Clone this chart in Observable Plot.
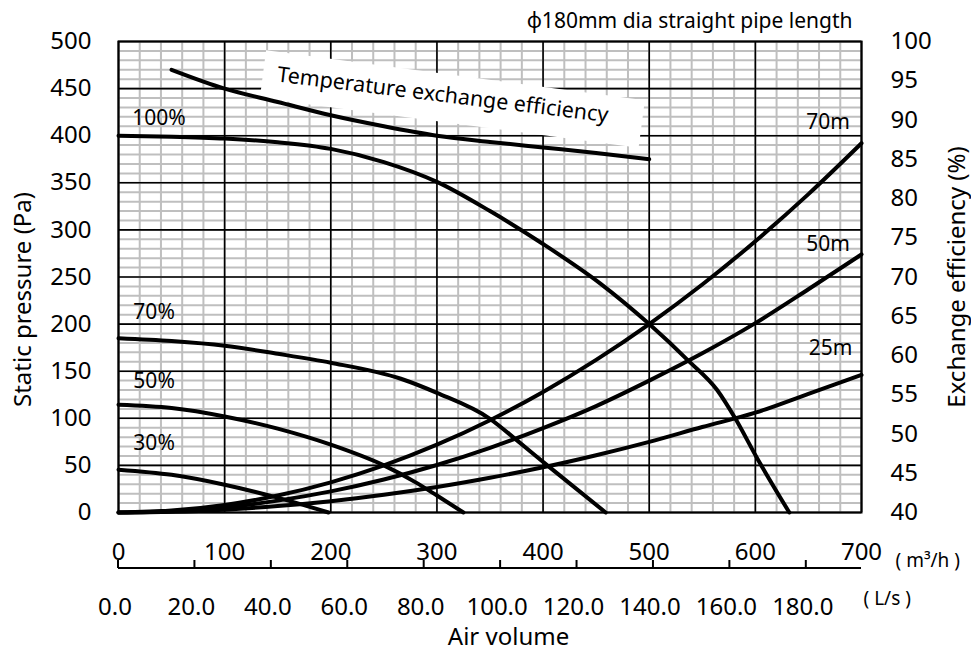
<!DOCTYPE html>
<html>
<head>
<meta charset="utf-8">
<script src="https://cdn.jsdelivr.net/npm/d3@7"></script>
<script src="https://cdn.jsdelivr.net/npm/@observablehq/plot@0.6"></script>
<style>
  html, body { margin: 0; padding: 0; background: #fff; }
  #chart svg { display: block; }
</style>
</head>
<body>
<div id="chart"></div>
<script>
// ---------- tick labels ----------
const volumeTicks = [0, 100, 200, 300, 400, 500, 600, 700];          // m3/h
const litreTicks = [0, 20, 40, 60, 80, 100, 120, 140, 160, 180];      // L/s
const pressureTicks = [0, 50, 100, 150, 200, 250, 300, 350, 400, 450, 500];
const effTicks = [40, 45, 50, 55, 60, 65, 70, 75, 80, 85, 90, 95, 100];

// ---------- fan curves (air volume m3/h -> static pressure Pa) ----------
const fanNames = ["100%", "70%", "50%", "30%"];
const fan100X = [0, 50, 100, 150, 200, 250, 300, 350, 400, 454, 500, 537, 564, 581, 601, 632];
const fan100P = [400, 399, 397, 393, 386, 372, 351, 320, 285, 243, 200, 161, 130, 100, 59, 0];
const fan70X = [0, 50, 100, 150, 200, 266, 300, 350, 376, 404, 459];
const fan70P = [185, 182, 177, 168.5, 159, 142, 127, 99.5, 76, 50, 0];
const fan50X = [0, 50, 100, 150, 200, 250, 280, 300, 325];
const fan50P = [114.5, 111, 102, 89, 72, 50, 32, 18, 0];
const fan30X = [0, 50, 100, 148, 198];
const fan30P = [45.5, 40, 29.5, 16.3, 0];

// ---------- duct resistance curves (phi180mm straight pipe) ----------
const pipeNames = ["70m", "50m", "25m"];
const pipeX = [0, 50, 100, 150, 200, 250, 300, 350, 400, 450, 500, 550, 600, 650, 700];
const pipe70P = [0, 2, 8, 18, 32, 50, 72, 98, 128, 162, 200, 242, 288, 338, 392];
const pipe50P = [0, 1.4, 5.6, 12.6, 22.4, 35, 50.4, 68.6, 89.6, 113, 140, 169, 201, 237, 274];
const pipe25P = [0, 0.8, 3, 6.8, 12, 18.8, 27, 36.8, 48, 60.8, 75, 90.8, 106, 126, 146];

// ---------- temperature exchange efficiency (%) ----------
const effX = [50, 100, 150, 200, 250, 300, 350, 400, 450, 500];
const effE = [96.4, 94.0, 92.3, 90.6, 89.2, 88.0, 87.2, 86.5, 85.8, 85.0];

// ---------- label anchors (data space) ----------
const fanLabelX = [13, 14, 14, 14];
const fanLabelP = [419, 213, 139, 73];
const pipeLabelX = [689, 689, 691.5];
const pipeLabelP = [414, 284.5, 174];

// ---------- derived tables ----------
const effToP = e => (e - 40) * 500 / 60;   // right axis 40..100 mapped onto 0..500 Pa
const fanRows = [[fan100X, fan100P], [fan70X, fan70P], [fan50X, fan50P], [fan30X, fan30P]]
  .flatMap(([xs, ps], k) => xs.map((x, i) => ({name: fanNames[k], x, p: ps[i]})));
const pipeRows = [pipe70P, pipe50P, pipe25P]
  .flatMap((ps, k) => pipeX.map((x, i) => ({name: pipeNames[k], x, p: ps[i]})));
const effRows = effX.map((x, i) => ({x, p: effToP(effE[i])}));
const fanLabels = fanNames.map((t, i) => ({t, x: fanLabelX[i], p: fanLabelP[i]}));
const pipeLabels = pipeNames.map((t, i) => ({t, x: pipeLabelX[i], p: pipeLabelP[i]}));

const gridMinorX = d3.range(0, 701, 20);
const gridMinorY = d3.range(0, 501, 10);

// L/s secondary axis, drawn with the x scale
function litreAxis(index, scales, values, dims) {
  const x = scales.x;
  const base = dims.height - dims.marginBottom + 56;
  const g = d3.create("svg:g");
  g.append("line")
    .attr("x1", x(0)).attr("x2", x(700)).attr("y1", base).attr("y2", base)
    .attr("stroke", "#000").attr("stroke-width", 2);
  for (const t of litreTicks) {
    const px = x(t * 3.6);
    g.append("line")
      .attr("x1", px).attr("x2", px).attr("y1", base).attr("y2", base - 8)
      .attr("stroke", "#000").attr("stroke-width", 2);
    g.append("text")
      .attr("x", px - 3).attr("y", base + 47)
      .attr("text-anchor", "middle")
      .attr("font-size", 24)
      .attr("fill", "#000")
      .text(t.toFixed(1));
  }
  return g.node();
}

// white tilted box with "Temperature exchange efficiency"
function effNote(index, scales) {
  const g = d3.create("svg:g");
  g.append("rect")
    .attr("transform", `translate(${scales.x(315)},${scales.y(438.4)}) rotate(7.5)`)
    .attr("x", -191).attr("y", -24).attr("width", 382).attr("height", 48)
    .attr("fill", "#fff");
  g.append("text")
    .attr("transform", `translate(${scales.x(306)},${scales.y(442.7)}) rotate(7)`)
    .attr("text-anchor", "middle")
    .attr("dy", "0.32em")
    .attr("font-size", 21.5)
    .attr("fill", "#000")
    .text("Temperature exchange efficiency");
  return g.node();
}

const chart = Plot.plot({
  width: 971,
  height: 653,
  marginLeft: 118,
  marginRight: 110,
  marginTop: 41,
  marginBottom: 141,
  x: {domain: [0, 700]},
  y: {domain: [0, 500]},
  style: {
    fontFamily: "'Noto Sans', 'DejaVu Sans', sans-serif",
    fontSize: "24px",
    color: "#000",
    background: "#fff",
    overflow: "visible"
  },
  marks: [
    // grid
    Plot.ruleY(gridMinorY, {stroke: "#bfbfbf", strokeWidth: 2}),
    Plot.ruleX(gridMinorX, {stroke: "#bfbfbf", strokeWidth: 2}),
    Plot.ruleY(pressureTicks, {stroke: "#000", strokeWidth: 1.6}),
    Plot.ruleX(volumeTicks, {stroke: "#000", strokeWidth: 1.6}),
    Plot.frame({stroke: "#000", strokeWidth: 2}),
    effNote,
    // axes
    Plot.axisY(pressureTicks, {anchor: "left", tickSize: 0, tickPadding: 27, label: null, fontSize: 24}),
    Plot.axisY(effTicks.map(effToP), {
      anchor: "right", tickSize: 0, tickPadding: 29, label: null, fontSize: 24,
      tickFormat: p => String(Math.round(40 + p * 60 / 500))
    }),
    Plot.axisX(volumeTicks, {anchor: "bottom", tickSize: 0, tickPadding: 30, label: null, fontSize: 24}),
    litreAxis,
    // curves
    Plot.line(pipeRows, {x: "x", y: "p", z: "name", stroke: "#000", strokeWidth: 4, curve: "monotone-x"}),
    Plot.line(fanRows, {x: "x", y: "p", z: "name", stroke: "#000", strokeWidth: 4, curve: "monotone-x"}),
    Plot.line(effRows, {x: "x", y: "p", stroke: "#000", strokeWidth: 4, curve: "monotone-x"}),
    // curve labels
    Plot.text(fanLabels, {x: "x", y: "p", text: "t", textAnchor: "start", lineAnchor: "middle", fontSize: 21}),
    Plot.text(pipeLabels, {x: "x", y: "p", text: "t", textAnchor: "end", lineAnchor: "middle", fontSize: 21}),
    // titles
    Plot.text(["\u03d5180mm dia straight pipe length"], {text: d => d, frameAnchor: "top-right", textAnchor: "end", lineAnchor: "middle", dx: -9, dy: -20, fontSize: 21}),
    Plot.text(["Static pressure (Pa)"], {text: d => d, frameAnchor: "left", textAnchor: "middle", rotate: -90, dx: -95.5, dy: 22.5, lineAnchor: "middle", fontSize: 24}),
    Plot.text(["Exchange efficiency (%)"], {text: d => d, frameAnchor: "right", textAnchor: "middle", rotate: -90, dx: 96, dy: 0, lineAnchor: "middle", fontSize: 24}),
    Plot.text(["Air volume"], {text: d => d, frameAnchor: "bottom", textAnchor: "middle", dx: 18.5, dy: 125.3, lineAnchor: "middle", fontSize: 24}),
    Plot.text(["( m\u00b3/h )"], {text: d => d, frameAnchor: "bottom-right", textAnchor: "start", dx: 34, dy: 48, lineAnchor: "middle", fontSize: 19}),
    Plot.text(["( L/s )"], {text: d => d, frameAnchor: "bottom-right", textAnchor: "start", dx: 2, dy: 86.5, lineAnchor: "middle", fontSize: 19})
  ]
});

document.getElementById("chart").appendChild(chart);
</script>
</body>
</html>
